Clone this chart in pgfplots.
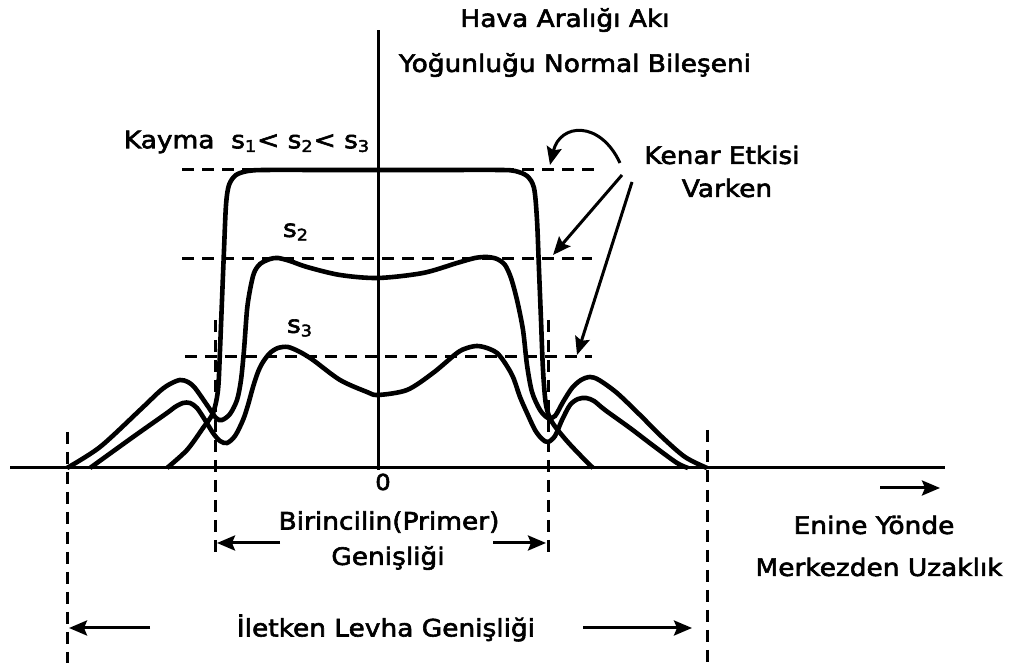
\documentclass[border=0pt]{standalone}
\usepackage{fontspec}
\setmainfont{DejaVu Sans}[FakeStretch=1.1, FakeBold=2.5]
\usepackage{pgfplots}
\pgfplotsset{compat=1.18}
\usetikzlibrary{arrows.meta}

\begin{document}
\begin{tikzpicture}[font=\fontsize{12}{14}\selectfont,
  curve/.style={black, line width=2.3pt, smooth, tension=0.5},
  guide/.style={black, line width=1.5pt, dash pattern=on 6pt off 4pt},
  dim/.style={black, line width=1.5pt, -{Stealth[length=9pt,width=7.5pt,inset=1.5pt]}}]
\begin{axis}[
  scale only axis, width=510.5pt, height=331.5pt,
  xmin=-378, xmax=643, ymin=-195, ymax=468,
  hide axis, clip=false,
]

% axes of the sketch
\addplot[black, line width=1.5pt] coordinates {(-368,0) (567,0)};
\addplot[black, line width=1.5pt] coordinates {(0,-2) (0,438)};

% slip s1: flat profile
\addplot[curve] coordinates {
  (-211,0) (-191,18) (-175,40) (-165,55) (-160,78) (-158,118) (-156,168)
  (-154,218) (-152,263) (-149,283) (-142,293) (-130,297) (-113,298)
  (-50,298) (0,298) (60,298) (122,298) (137,297) (149,292) (156,280)
  (159,248) (161,198) (163,148) (165,98) (168,63) (174,46) (188,28)
  (202,13) (215,0)};

% slip s2
\addplot[curve] coordinates {
  (-311,0) (-278,21) (-238,58) (-218,77) (-208,84) (-198,88) (-190,86)
  (-183,80) (-171,63)
  (-162,50) (-156,48) (-148,54) (-141,68) (-137,88) (-134,118) (-131,158)
  (-128,178) (-124,195) (-118,204) (-108,209) (-100,210) (-88,207)
  (-71,201) (-38,193) (0,190) (45,195) (79,205) (97,210) (109,211)
  (119,209) (127,203) (133,190) (139,168) (145,138) (149,103) (154,76)
  (162,58) (170,50) (177,52) (185,66) (194,80) (203,88) (212,91)
  (221,88) (239,75) (262,53) (284,31) (307,11) (329,0)};

% slip s3
\addplot[curve] coordinates {
  (-288,0) (-245,31) (-211,55) (-203,61) (-195,65) (-188,65) (-181,60)
  (-173,48)
  (-165,35) (-158,27) (-151,25) (-143,32) (-135,48) (-130,63) (-125,81)
  (-120,96) (-115,106) (-108,115) (-100,120) (-90,121) (-78,116)
  (-65,108) (-38,88) (-11,76) (0,73) (29,78) (55,95) (79,115) (89,120)
  (99,122) (109,120) (119,115) (127,105) (135,91) (142,71) (149,55)
  (157,38) (164,29) (170,26) (177,32) (184,48) (192,63) (200,69)
  (208,70) (216,67) (227,58) (252,40) (277,21) (299,5) (310,0)};

% reference levels
\addplot[guide] coordinates {(-196,298) (217,298)};
\addplot[guide] coordinates {(-196,209) (214,209)};
\addplot[guide] coordinates {(-193,111) (214,111)};

% primary and plate edges
\addplot[guide] coordinates {(-311,36) (-311,-195)};
\addplot[guide] coordinates {(329,38) (329,-195)};
\addplot[guide] coordinates {(-163,148) (-163,-87)};
\addplot[guide] coordinates {(170,148) (170,-87)};

% width arrows
\draw[dim] (axis cs:-98,-75) -- (axis cs:-161,-75);
\draw[dim] (axis cs:115,-75) -- (axis cs:168,-75);
\draw[dim] (axis cs:-228,-160) -- (axis cs:-309,-160);
\draw[dim] (axis cs:205,-160) -- (axis cs:314,-160);
\draw[dim] (axis cs:502,-20) -- (axis cs:562,-20);

% edge-effect pointers
\draw[dim] (axis cs:242,305) .. controls (axis cs:222,348) and (axis cs:182,345) .. (axis cs:172,303);
\draw[dim] (axis cs:244,293) -- (axis cs:175,213);
\draw[dim] (axis cs:254,286) -- (axis cs:199,113);

% labels
\node at (axis cs:187,448) {Hava Aralığı Akı};
\node at (axis cs:197,403) {Yoğunluğu Normal Bileşeni};
\node at (axis cs:-131,326) {Kayma\ \ s\textsubscript{1}< s\textsubscript{2}< s\textsubscript{3}};
\node at (axis cs:-82,236) {s\textsubscript{2}};
\node at (axis cs:-78,140) {s\textsubscript{3}};
\node at (axis cs:344,313) {Kenar Etkisi};
\node at (axis cs:349,280) {Varken};
\node[font=\fontsize{11}{12}\selectfont] at (axis cs:5,-14) {0};
\node at (axis cs:11,-54) {Birincilin(Primer)};
\node at (axis cs:10,-90) {Genişliği};
\node at (axis cs:496,-57) {Enine Yönde};
\node at (axis cs:501,-99) {Merkezden Uzaklık};
\node at (axis cs:8,-160) {İletken Levha Genişliği};
\end{axis}
\pgfresetboundingbox
\path (current axis.south west) rectangle (current axis.north east);
\end{tikzpicture}
\end{document}
